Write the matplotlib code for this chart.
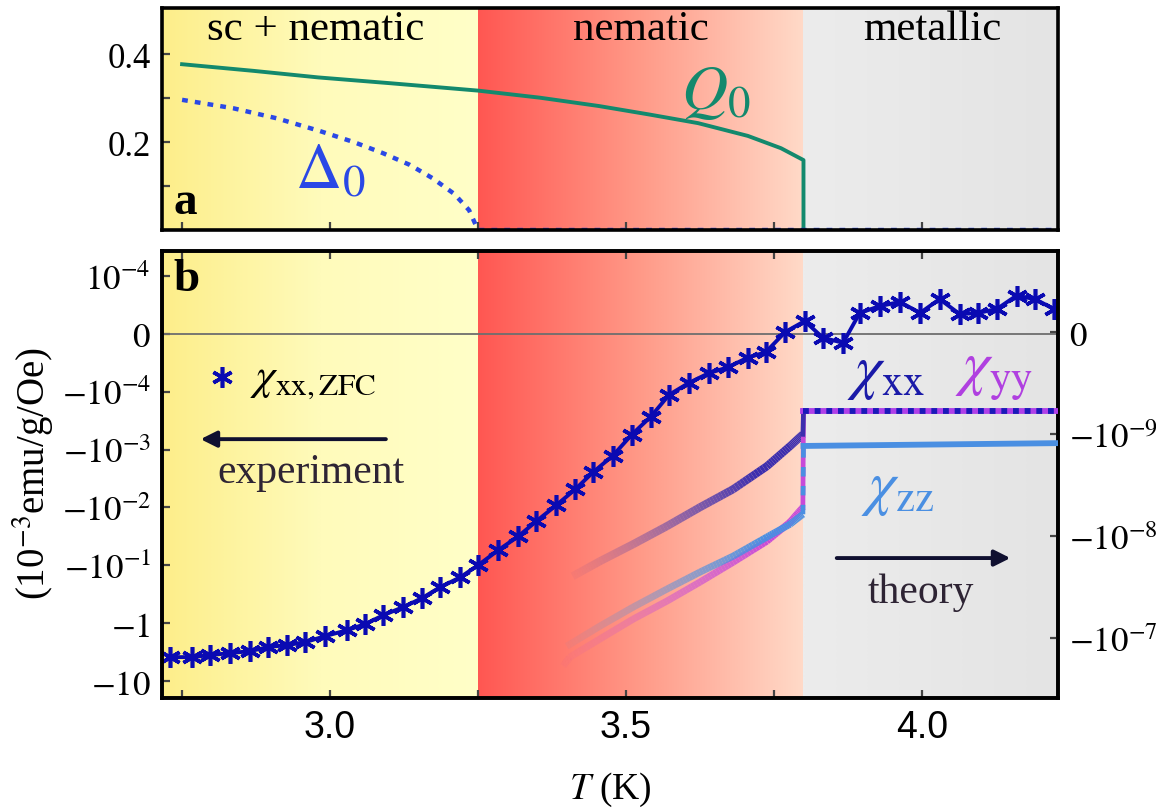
import numpy as np
import matplotlib
matplotlib.use('Agg')
import matplotlib.pyplot as plt
from matplotlib.colors import LinearSegmentedColormap, to_rgba
from matplotlib.collections import LineCollection
from matplotlib.ticker import FixedLocator, FixedFormatter, NullLocator

plt.rcParams['font.family'] = ['Liberation Serif', 'DejaVu Serif']
plt.rcParams['mathtext.fontset'] = 'stix'

# ---------------- data ----------------
T_min, T_sc, T_nem, T_max = 2.716, 3.25, 3.80, 4.230

# panel a : order parameters
T_Q = [2.75, 2.87, 2.98, 3.10, 3.25, 3.354, 3.454, 3.538, 3.622, 3.706, 3.762, 3.80, 3.80]
Q0 = [0.377, 0.362, 0.347, 0.334, 0.317, 0.301, 0.282, 0.263, 0.243, 0.214, 0.186, 0.159, 0.0]
T_D = [2.75, 2.836, 2.910, 2.983, 3.040, 3.089, 3.135, 3.173, 3.210, 3.235, 3.25, 4.22]
D0 = [0.296, 0.277, 0.254, 0.225, 0.200, 0.175, 0.148, 0.118, 0.082, 0.045, 0.0, 0.0]

# panel b : experiment (left axis)
T_exp = [2.730, 2.767, 2.797, 2.831, 2.865, 2.895, 2.927, 2.958, 2.992, 3.029,
         3.059, 3.090, 3.123, 3.155, 3.186, 3.220, 3.250, 3.284, 3.318, 3.348,
         3.382, 3.414, 3.444, 3.478, 3.510, 3.542, 3.573, 3.606, 3.640, 3.672,
         3.706, 3.736, 3.769, 3.802, 3.833, 3.867, 3.895, 3.929, 3.963, 3.997,
         4.030, 4.064, 4.095, 4.127, 4.160, 4.191, 4.223]
chi_exp = [-3.86, -3.86, -3.56, -3.29, -3.04, -2.59, -2.39, -2.13, -1.67, -1.32,
           -1.04, -0.728, -0.530, -0.371, -0.239, -0.161, -0.100, -0.055, -0.0316, -0.0175,
           -0.0092, -0.0049, -0.00249, -0.00127, -0.00055, -0.00027, -0.000113, -8.5e-5, -6.8e-5, -5.8e-5,
           -4.1e-5, -3.2e-5, 0.3e-5, 2.2e-5, -0.7e-5, -1.55e-5, 3.6e-5, 4.8e-5, 5.5e-5, 3.6e-5,
           6.0e-5, 3.4e-5, 3.6e-5, 4.3e-5, 6.6e-5, 6.0e-5, 4.3e-5]

# panel b : theory (right axis)
T_xx = [3.410, 3.456, 3.512, 3.569, 3.625, 3.681, 3.738, 3.777, 3.799]
chi_xx = [-2.47e-8, -1.76e-8, -1.20e-8, -7.98e-9, -5.2e-9, -3.46e-9, -2.06e-9, -1.31e-9, -1.0e-9]
T_yy = [3.394, 3.405, 3.456, 3.512, 3.569, 3.625, 3.681, 3.738, 3.777, 3.799]
chi_yy = [-1.88e-7, -1.54e-7, -1.02e-7, -6.52e-8, -4.34e-8, -2.82e-8, -1.80e-8, -1.12e-8, -7.29e-9, -5.2e-9]
T_zz = [3.400, 3.456, 3.512, 3.569, 3.625, 3.681, 3.738, 3.777, 3.799]
chi_zz = [-1.20e-7, -7.63e-8, -4.97e-8, -3.31e-8, -2.25e-8, -1.57e-8, -1.02e-8, -7.63e-9, -6.09e-9]
T_flat = [3.80, 4.23]
chi_xx_flat = [-0.77e-9, -0.77e-9]
chi_zz_flat = [-1.30e-9, -1.22e-9]

left_ticks = [1e-4, 0, -1e-4, -1e-3, -1e-2, -1e-1, -1, -10]
left_labels = [r'$10^{-4}$', r'$0$', r'$-10^{-4}$', r'$-10^{-3}$', r'$-10^{-2}$',
               r'$-10^{-1}$', r'$-1$', r'$-10$']
right_ticks = [0, -1e-9, -1e-8, -1e-7]
right_labels = [r'$0$', r'$-10^{-9}$', r'$-10^{-8}$', r'$-10^{-7}$']

# ---------------- colours ----------------
c_Q = '#13896d'
c_D = '#2a48e6'
c_exp = '#0a0ab2'
c_xx = '#3c2eae'
c_yy = '#c84ad8'
c_zz = '#4a8fe2'

cm_yel = LinearSegmentedColormap.from_list('y', ['#fdee8a', '#fffbbb', '#ffffc8'])
cm_red = LinearSegmentedColormap.from_list('r', ['#ff5752', '#ff9a88', '#ffdac8'])
cm_gry = LinearSegmentedColormap.from_list('g', ['#ececec', '#e4e4e4'])

fig = plt.figure(figsize=(11.56, 8.12), dpi=100)
axA = fig.add_axes([0.1401, 0.7155, 0.7751, 0.2735])
axB = fig.add_axes([0.1401, 0.1392, 0.7751, 0.5505])


def shade(ax):
    tr = ax.get_xaxis_transform()
    g = np.linspace(0, 1, 256)[None, :]
    for cm, x0, x1 in [(cm_yel, T_min, T_sc), (cm_red, T_sc, T_nem), (cm_gry, T_nem, T_max)]:
        ax.imshow(g, cmap=cm, extent=[x0, x1, 0, 1], transform=tr, aspect='auto',
                  zorder=0, interpolation='bilinear')


for ax in (axA, axB):
    shade(ax)
    for s in ax.spines.values():
        s.set_linewidth(2.6)
        s.set_color('black')
        s.set_zorder(10)

TICK = dict(direction='in', length=6, width=1.6, color='#444444')

# ---------------- panel a ----------------
axA.plot(T_Q, Q0, color=c_Q, lw=2.8, zorder=3)
axA.plot(T_D, D0, color=c_D, lw=3.2, ls=(0, (1.3, 1.6)), zorder=3)
axA.set_xlim(T_min, T_max)
axA.set_ylim(0, 0.505)
axA.yaxis.set_major_locator(FixedLocator([0.2, 0.4]))
axA.yaxis.set_minor_locator(FixedLocator([0.1, 0.3]))
axA.set_yticklabels(['0.2', '0.4'])
axA.xaxis.set_major_locator(FixedLocator([2.75, 3.0, 3.25, 3.5, 3.75, 4.0]))
axA.xaxis.set_minor_locator(NullLocator())
axA.tick_params(axis='x', labelbottom=False, **TICK)
axA.tick_params(axis='y', which='both', labelsize=25, pad=8, **TICK)

axA.text(0.172, 0.905, 'sc + nematic', transform=axA.transAxes, ha='center', va='center', fontsize=31)
axA.text(0.535, 0.905, 'nematic', transform=axA.transAxes, ha='center', va='center', fontsize=31)
axA.text(0.860, 0.905, 'metallic', transform=axA.transAxes, ha='center', va='center', fontsize=31)
axA.text(0.579, 0.615, r'$Q_0$', transform=axA.transAxes, ha='left', va='center', fontsize=46, color=c_Q)
axA.text(0.148, 0.262, r'$\Delta_0$', transform=axA.transAxes, ha='left', va='center', fontsize=46, color=c_D)
axA.text(0.013, 0.075, 'a', transform=axA.transAxes, ha='left', va='baseline', fontsize=34,
         fontweight='bold')

# ---------------- panel b (experiment) ----------------
axB.set_yscale('symlog', linthresh=1e-4, linscale=0.9)
axB.axhline(0, color='#6e6e6e', lw=1.3, zorder=2)
axB.plot(T_exp, chi_exp, color=c_exp, lw=2.8, marker=(6, 2, 0), ms=15, mew=2.6, zorder=6)
axB.set_xlim(T_min, T_max)
axB.set_ylim(-19.6, 2.7e-4)
axB.yaxis.set_major_locator(FixedLocator(left_ticks))
axB.yaxis.set_major_formatter(FixedFormatter(left_labels))
axB.yaxis.set_minor_locator(NullLocator())
axB.xaxis.set_major_locator(FixedLocator([3.0, 3.5, 4.0]))
axB.xaxis.set_minor_locator(FixedLocator([2.75, 3.25, 3.75]))
axB.set_xticklabels(['3.0', '3.5', '4.0'], fontfamily='Liberation Sans')
axB.tick_params(axis='x', which='both', top=True, labelsize=27, pad=8, **TICK)
axB.tick_params(axis='y', which='both', labelsize=25, pad=8, right=False, **TICK)

# legend-like annotations
axB.plot([0.067], [0.718], transform=axB.transAxes, marker=(6, 2, 0), ms=15, mew=2.6,
         color=c_exp, ls='none', zorder=7)
axB.text(0.098, 0.712, r'$\chi_{\rm xx,ZFC}$', transform=axB.transAxes, ha='left', va='center',
         fontsize=32)
axB.annotate('', xy=(0.040, 0.579), xytext=(0.253, 0.579), xycoords='axes fraction',
             arrowprops=dict(arrowstyle='-|>', color='#101030', lw=2.8, mutation_scale=24))
axB.text(0.166, 0.506, 'experiment', transform=axB.transAxes, ha='center', va='center',
         fontsize=30, color='#2e2434')
axB.text(0.013, 0.937, 'b', transform=axB.transAxes, ha='left', va='center', fontsize=34,
         fontweight='bold')

# ---------------- panel b (theory) ----------------
axR = axB.twinx()
axR.set_yscale('symlog', linthresh=1e-9, linscale=0.9)
axR.set_ylim(-3.87e-7, 0.8e-9)
axR.set_xlim(T_min, T_max)


def fade_line(ax, T, v, color, lw, t0, t1, nsub=12):
    """Draw a polyline whose opacity grows with T (pieces stay on the polyline)."""
    T = np.asarray(T, float)
    ys = ax.yaxis.get_transform().transform(np.asarray(v, float))   # scaled coordinates
    segs, alphas = [], []
    for i in range(len(T) - 1):
        f = np.linspace(0, 1, nsub + 1)
        xs = T[i] + f * (T[i + 1] - T[i])
        yv = ys[i] + f * (ys[i + 1] - ys[i])
        for k in range(nsub):
            segs.append([[xs[k], yv[k]], [xs[k + 1], yv[k + 1]]])
            tm = 0.5 * (xs[k] + xs[k + 1])
            alphas.append(np.clip((tm - t0) / (t1 - t0), 0.0, 1.0) ** 1.2)
    rgba = [to_rgba(color, a) for a in alphas]
    lc = LineCollection(segs, colors=rgba, linewidths=lw, capstyle='butt',
                        transform=ax.transLimits + ax.transAxes, zorder=4)
    ax.add_collection(lc, autolim=False)


fade_line(axR, T_yy, chi_yy, c_yy, 5.0, 3.37, 3.74)
fade_line(axR, T_zz, chi_zz, c_zz, 5.0, 3.37, 3.74)
fade_line(axR, T_xx, chi_xx, c_xx, 5.8, 3.39, 3.72)

# jumps at the nematic transition and metallic plateau
axR.plot([T_yy[-1], T_flat[0]], [chi_yy[-1], chi_xx_flat[0]], color=c_yy, lw=3.4, zorder=4)
axR.plot([T_zz[-1], T_flat[0]], [chi_zz[-1], chi_zz_flat[0]], color=c_zz, lw=3.4, ls=(0, (2, 2)), zorder=4)
axR.plot([T_xx[-1], T_flat[0]], [chi_xx[-1], chi_xx_flat[0]], color=c_xx, lw=3.4, zorder=4)
axR.plot(T_flat, chi_zz_flat, color=c_zz, lw=4.2, zorder=4)
axR.plot(T_flat, chi_xx_flat, color='#b040e8', lw=4.2, zorder=4)
axR.plot(T_flat, chi_xx_flat, color='#1a1ab8', lw=4.2, ls=(0, (1.0, 1.0)), zorder=5)

axR.yaxis.set_major_locator(FixedLocator(right_ticks))
axR.yaxis.set_major_formatter(FixedFormatter(right_labels))
axR.yaxis.set_minor_locator(NullLocator())
axR.tick_params(axis='y', which='both', labelsize=25, pad=8, **TICK)
for s in axR.spines.values():
    s.set_linewidth(2.6)

axR.text(0.764, 0.727, r'$\chi_{\rm xx}$', transform=axB.transAxes, ha='left', va='center',
         fontsize=44, color='#1a1aa8')
axR.text(0.885, 0.727, r'$\chi_{\rm yy}$', transform=axB.transAxes, ha='left', va='center',
         fontsize=44, color='#b040e0')
axR.text(0.780, 0.466, r'$\chi_{\rm zz}$', transform=axB.transAxes, ha='left', va='center',
         fontsize=44, color=c_zz)
axR.annotate('', xy=(0.950, 0.313), xytext=(0.750, 0.313), xycoords=axB.transAxes,
             arrowprops=dict(arrowstyle='-|>', color='#101030', lw=2.8, mutation_scale=24))
axR.text(0.847, 0.238, 'theory', transform=axB.transAxes, ha='center', va='center',
         fontsize=30, color='#2e2434')

fig.text(610 / 1156, 1 - 790 / 812, r'$T$ (K)', ha='center', va='center', fontsize=27)
fig.text(33 / 1156, 1 - 474 / 812, r'(10$^{-3}$emu/g/Oe)', ha='center', va='center',
         rotation=90, fontsize=28)

fig.savefig('out.png', dpi=100)
